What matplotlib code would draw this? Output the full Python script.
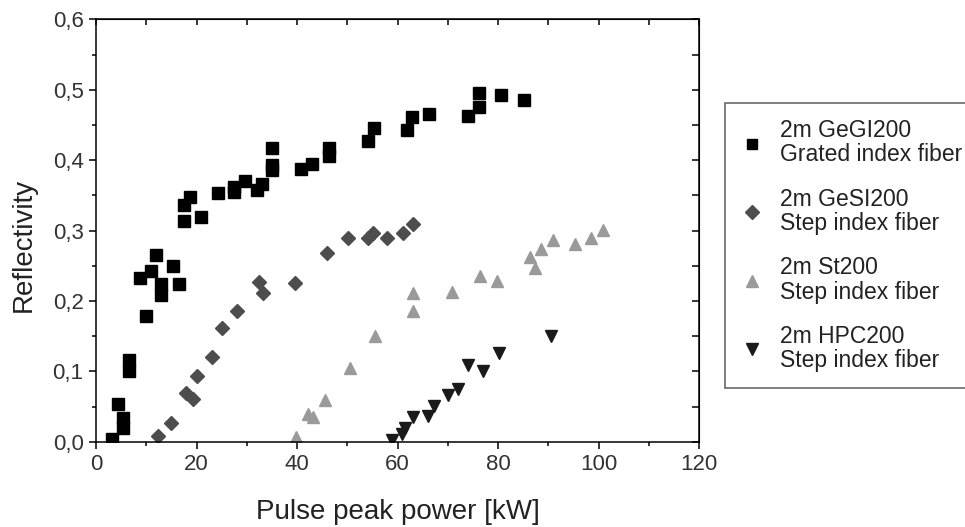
import numpy as np
import matplotlib
matplotlib.use("Agg")
import matplotlib.pyplot as plt
from matplotlib.ticker import MultipleLocator, FuncFormatter

plt.rcParams["font.family"] = ["Liberation Sans", "DejaVu Sans"]

# ── data ────────────────────────────────────────────────────────────────────
gegi_x = [3.1, 4.4, 5.4, 5.4, 6.6, 6.6, 8.7, 9.9, 10.9, 12.0, 13.0, 13.0, 15.3,
          16.5, 17.5, 17.5, 18.7, 20.9, 24.2, 27.5, 27.5, 29.7, 32.0, 33.1,
          35.1, 35.1, 35.1, 40.8, 43.0, 46.3, 46.3, 54.1, 55.3, 61.8, 62.9,
          66.3, 74.0, 76.2, 76.2, 80.6, 85.1]
gegi_y = [0.004, 0.053, 0.034, 0.019, 0.116, 0.101, 0.233, 0.179, 0.242, 0.266,
          0.224, 0.209, 0.249, 0.224, 0.337, 0.313, 0.348, 0.319, 0.354, 0.362,
          0.355, 0.370, 0.357, 0.366, 0.418, 0.393, 0.386, 0.388, 0.395, 0.418,
          0.406, 0.427, 0.446, 0.443, 0.461, 0.465, 0.463, 0.475, 0.495, 0.493,
          0.486]

gesi_x = [12.4, 15.0, 18.0, 19.2, 20.0, 23.1, 25.1, 28.0, 32.5, 33.3, 39.6,
          45.9, 50.1, 54.1, 55.2, 58.0, 61.0, 63.1]
gesi_y = [0.008, 0.027, 0.070, 0.061, 0.094, 0.120, 0.161, 0.186, 0.227, 0.212,
          0.226, 0.268, 0.289, 0.289, 0.296, 0.289, 0.296, 0.310]

st_x = [39.8, 42.1, 43.2, 45.6, 50.5, 55.5, 63.1, 63.1, 70.8, 76.5, 79.8, 86.4,
        87.4, 88.6, 90.9, 95.4, 98.5, 100.9]
st_y = [0.007, 0.040, 0.035, 0.060, 0.105, 0.150, 0.211, 0.186, 0.213, 0.236,
        0.228, 0.263, 0.247, 0.274, 0.287, 0.281, 0.289, 0.301]

hpc_x = [58.8, 60.8, 61.5, 63.0, 66.0, 67.3, 70.0, 72.1, 74.1, 77.1, 80.1, 90.6]
hpc_y = [0.002, 0.011, 0.019, 0.035, 0.036, 0.051, 0.067, 0.075, 0.109, 0.101,
         0.126, 0.150]

labels = ["2m GeGI200\nGrated index fiber",
          "2m GeSI200\nStep index fiber",
          "2m St200\nStep index fiber",
          "2m HPC200\nStep index fiber"]


def main():
    fig = plt.figure(figsize=(9.65, 5.27), dpi=100)
    ax = fig.add_axes([0.0995, 0.1617, 0.6249, 0.8015])

    ax.plot(gegi_x, gegi_y, ls="none", marker="s", ms=8, color="black", label=labels[0])
    ax.plot(gesi_x, gesi_y, ls="none", marker="D", ms=7.5, color="#4d4d4d", label=labels[1])
    ax.plot(st_x, st_y, ls="none", marker="^", ms=9, color="#9a9a9a", label=labels[2])
    ax.plot(hpc_x, hpc_y, ls="none", marker="v", ms=9, color="#1a1a1a", label=labels[3])

    ax.set_xlim(0, 120)
    ax.set_ylim(0, 0.6)
    ax.xaxis.set_major_locator(MultipleLocator(20))
    ax.xaxis.set_minor_locator(MultipleLocator(10))
    ax.yaxis.set_major_locator(MultipleLocator(0.1))
    ax.yaxis.set_minor_locator(MultipleLocator(0.05))
    # decimal comma like the original
    ax.yaxis.set_major_formatter(FuncFormatter(lambda v, p: f"{v:.1f}".replace(".", ",")))

    for s in ax.spines.values():
        s.set_linewidth(1.1)
    ax.tick_params(which="both", direction="out", width=1.1, labelsize=16,
                   top=False, right=False, colors="black")
    ax.tick_params(which="major", length=5)
    ax.tick_params(which="minor", length=3)
    ax.tick_params(axis="x", which="major", pad=4)
    ax.tick_params(axis="y", which="major", pad=4)
    for t in ax.get_xticklabels() + ax.get_yticklabels():
        t.set_color("#333333")

    # mirrored ticks pointing inward on top and right
    top = ax.secondary_xaxis("top")
    top.xaxis.set_major_locator(MultipleLocator(10))
    top.tick_params(direction="in", length=4, width=1.1, labeltop=False)
    right = ax.secondary_yaxis("right")
    right.yaxis.set_major_locator(MultipleLocator(0.05))
    right.tick_params(direction="in", length=5, width=1.1, labelright=False)

    ax.set_xlabel("Pulse peak power [kW]", fontsize=20, labelpad=17, color="#222222")
    ax.set_ylabel("Reflectivity", fontsize=20, color="#222222")
    ax.yaxis.set_label_coords(-0.098, 0.467)

    leg = ax.legend(loc="upper left", bbox_to_anchor=(725 / 965, 1 - 103 / 527),
                    bbox_transform=fig.transFigure, fontsize=16.5, frameon=True,
                    fancybox=False, edgecolor="#444444", handlelength=0.95,
                    handletextpad=0.75, labelspacing=0.92, borderpad=0.7,
                    borderaxespad=0, markerscale=0.95)
    leg.get_frame().set_linewidth(1.2)
    for t in leg.get_texts():
        t.set_linespacing(1.08)
        t.set_color("#222222")

    fig.savefig("out.png", dpi=100)


if __name__ == "__main__":
    main()
